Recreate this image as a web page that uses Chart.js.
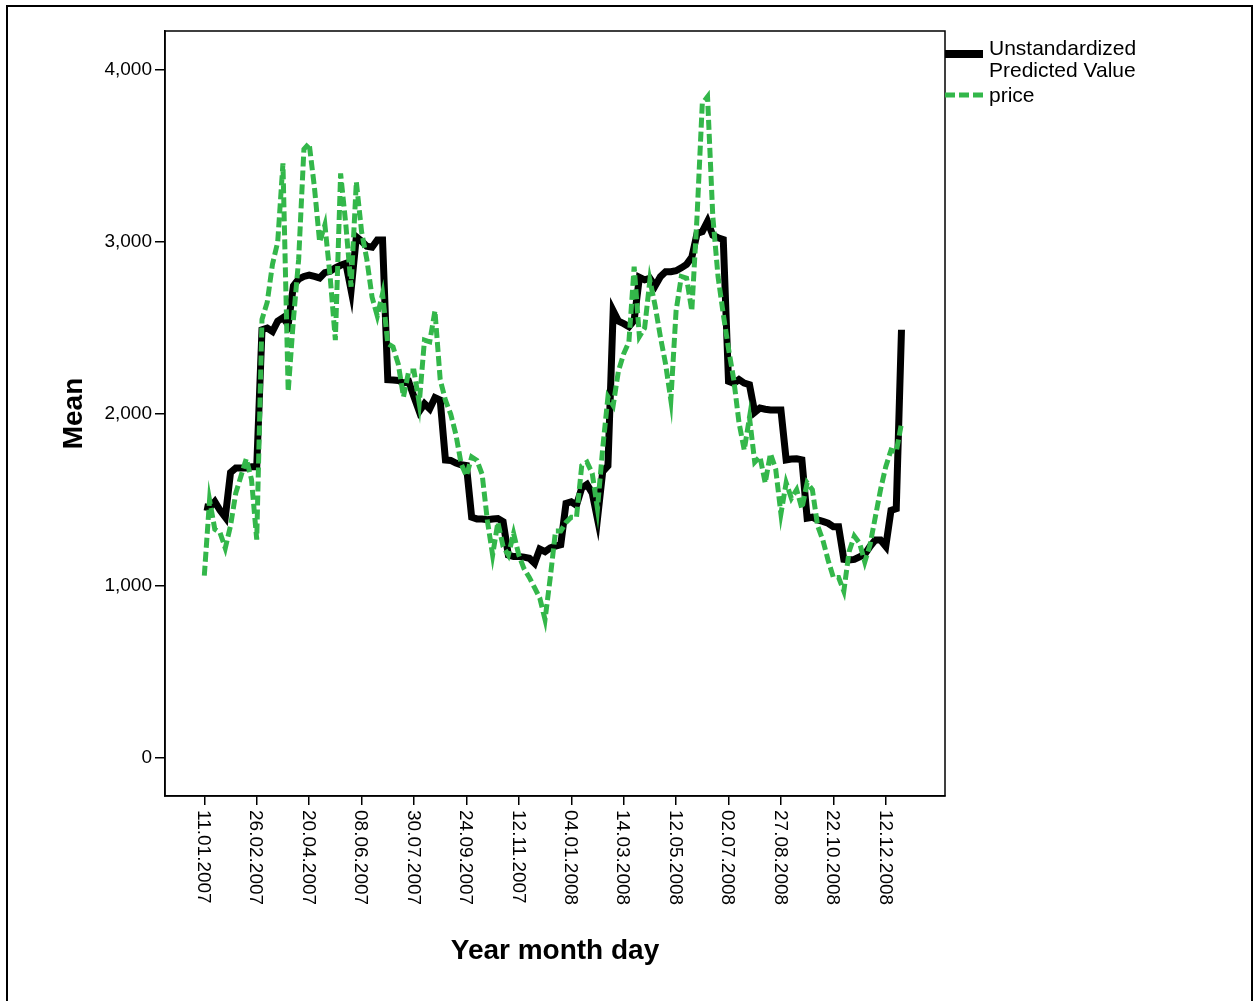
<!DOCTYPE html>
<html>
<head>
    <title>Mean by Year month day</title>
    <script src="https://cdn.jsdelivr.net/npm/chart.js"></script>
    <style>
        body { margin: 0; background: #fff; }
        canvas { display: block; }
    </style>
</head>
<body>
    <canvas id="chart" width="1258" height="1001"></canvas>

    <script>
        // x axis labels, one every tickStep points
        const dateTicks = ['11.01.2007', '26.02.2007', '20.04.2007', '08.06.2007', '30.07.2007', '24.09.2007', '12.11.2007',
                           '04.01.2008', '14.03.2008', '12.05.2008', '02.07.2008', '27.08.2008', '22.10.2008', '12.12.2008'];
        const tickStep = 10;
        const yTicks = [0, 1000, 2000, 3000, 4000];

        // Unstandardized Predicted Value
        const predicted = [
            1461, 1455, 1490, 1440, 1400, 1660, 1686, 1686, 1686, 1694,
            1694, 2490, 2500, 2480, 2540, 2560, 2520, 2745, 2785, 2800,
            2808, 2800, 2791, 2822, 2830, 2850, 2865, 2876, 2720, 3030,
            3005, 2975, 2970, 3012, 3012, 2200, 2198, 2195, 2180, 2188,
            2100, 2015, 2060, 2030, 2095, 2081, 1733, 1730, 1715, 1705,
            1700, 1400, 1390, 1390, 1386, 1390, 1392, 1374, 1180, 1171,
            1171, 1168, 1161, 1132, 1215, 1200, 1222, 1232, 1240, 1480,
            1490, 1470, 1570, 1590, 1540, 1390, 1665, 1698, 2600, 2540,
            2525, 2508, 2545, 2795, 2780, 2789, 2745, 2798, 2827, 2827,
            2833, 2850, 2870, 2912, 3050, 3060, 3120, 3040, 3025, 3015,
            2190, 2178, 2200, 2180, 2170, 2010, 2035, 2028, 2023, 2023,
            2023, 1733, 1738, 1740, 1733, 1395, 1400, 1384, 1376, 1365,
            1345, 1345, 1155, 1151, 1155, 1170, 1185, 1230, 1267, 1267,
            1230, 1440, 1450, 2490
        ];

        // price
        const price = [
            1060, 1500, 1330, 1310, 1220, 1350, 1540, 1640, 1740, 1620,
            1270, 2550, 2650, 2870, 3000, 3457, 2130, 2550, 2900, 3540,
            3573, 3320, 3000, 3100, 2800, 2430, 3399, 3100, 2740, 3350,
            3060, 2900, 2680, 2570, 2700, 2410, 2390, 2290, 2100, 2250,
            2250, 2062, 2430, 2420, 2600, 2200, 2080, 2000, 1880, 1710,
            1640, 1750, 1730, 1650, 1380, 1180, 1370, 1230, 1180, 1306,
            1180, 1100, 1050, 990, 930, 805, 1050, 1320, 1320, 1370,
            1400, 1400, 1700, 1720, 1655, 1450, 1800, 2100, 2050, 2250,
            2350, 2420, 2857, 2450, 2500, 2779, 2630, 2450, 2290, 2081,
            2600, 2800, 2790, 2600, 3150, 3806, 3845, 3150, 2800, 2580,
            2380, 2200, 1950, 1791, 1980, 1720, 1752, 1600, 1770, 1680,
            1420, 1600, 1510, 1560, 1450, 1600, 1560, 1350, 1267, 1150,
            1050, 1050, 970, 1200, 1290, 1250, 1140, 1240, 1400, 1560,
            1694, 1790, 1780, 1946
        ];

        const FONT = '"Liberation Sans", Arial, sans-serif';
        const GREEN = '#33b74a';

        // frame, rotated date labels, axis titles and legend
        const decorations = {
            id: 'decorations',
            afterDraw(chart) {
                const ctx = chart.ctx;
                const a = chart.chartArea;
                const xs = chart.scales.x;
                ctx.save();
                ctx.strokeStyle = '#000';
                ctx.lineWidth = 2;
                ctx.beginPath();
                ctx.moveTo(7, 1001); ctx.lineTo(7, 6); ctx.lineTo(1252, 6); ctx.lineTo(1252, 1001);
                ctx.stroke();
                ctx.lineWidth = 1.5;
                ctx.strokeRect(a.left, a.top, a.right - a.left, a.bottom - a.top);

                ctx.fillStyle = '#000';
                ctx.font = '19px ' + FONT;
                ctx.textAlign = 'left';
                ctx.textBaseline = 'middle';
                dateTicks.forEach((t, k) => {
                    const px = xs.getPixelForValue(k * tickStep);
                    ctx.save();
                    ctx.translate(px - 1, a.bottom + 14);
                    ctx.rotate(Math.PI / 2);
                    ctx.fillText(t, 0, 0);
                    ctx.restore();
                });

                ctx.font = 'bold 28px ' + FONT;
                ctx.textAlign = 'center';
                ctx.fillText('Year month day', (a.left + a.right) / 2, 951);
                ctx.save();
                ctx.translate(74, (a.top + a.bottom) / 2);
                ctx.rotate(-Math.PI / 2);
                ctx.fillText('Mean', 0, 0);
                ctx.restore();

                // legend
                ctx.lineWidth = 8;
                ctx.beginPath(); ctx.moveTo(945, 54); ctx.lineTo(983, 54); ctx.stroke();
                ctx.strokeStyle = GREEN;
                ctx.lineWidth = 5;
                ctx.setLineDash([10, 4]);
                ctx.beginPath(); ctx.moveTo(945, 95); ctx.lineTo(983, 95); ctx.stroke();
                ctx.setLineDash([]);
                ctx.font = '21px ' + FONT;
                ctx.textAlign = 'left';
                ctx.textBaseline = 'alphabetic';
                ctx.fillText('Unstandardized', 989, 55);
                ctx.fillText('Predicted Value', 989, 77);
                ctx.fillText('price', 989, 102);
                ctx.restore();
            }
        };

        new Chart(document.getElementById('chart'), {
            type: 'line',
            data: {
                datasets: [
                    { label: 'price', data: price.map((v, i) => ({ x: i, y: v })), borderColor: GREEN,
                      borderWidth: 5, borderDash: [10, 4], pointRadius: 0, tension: 0, order: 0 },
                    { label: 'Unstandardized Predicted Value', data: predicted.map((v, i) => ({ x: i, y: v })), borderColor: '#000',
                      borderWidth: 7, pointRadius: 0, tension: 0, order: 1 }
                ]
            },
            options: {
                responsive: false,
                animation: false,
                layout: { padding: { top: 31, right: 313, bottom: 0, left: 0 } },
                plugins: { legend: { display: false }, tooltip: { enabled: false } },
                scales: {
                    x: {
                        type: 'linear', min: -7.5, max: 141.3,
                        afterBuildTicks: s => { s.ticks = dateTicks.map((_, k) => ({ value: k * tickStep })); },
                        afterFit: s => { s.height = 205; },
                        ticks: { display: false },
                        grid: { drawOnChartArea: false, tickLength: 9, color: '#000', lineWidth: 1.5 },
                        border: { color: '#000', width: 1.5 }
                    },
                    y: {
                        min: -221, max: 4227,
                        afterBuildTicks: s => { s.ticks = yTicks.map(v => ({ value: v })); },
                        afterFit: s => { s.width = 165; },
                        ticks: { color: '#000', font: { family: FONT, size: 19 }, padding: 3,
                                 callback: v => v.toLocaleString('en-US') },
                        grid: { drawOnChartArea: false, tickLength: 10, color: '#000', lineWidth: 1.5 },
                        border: { color: '#000', width: 1.5 }
                    }
                }
            },
            plugins: [decorations]
        });
    </script>
</body>
</html>
